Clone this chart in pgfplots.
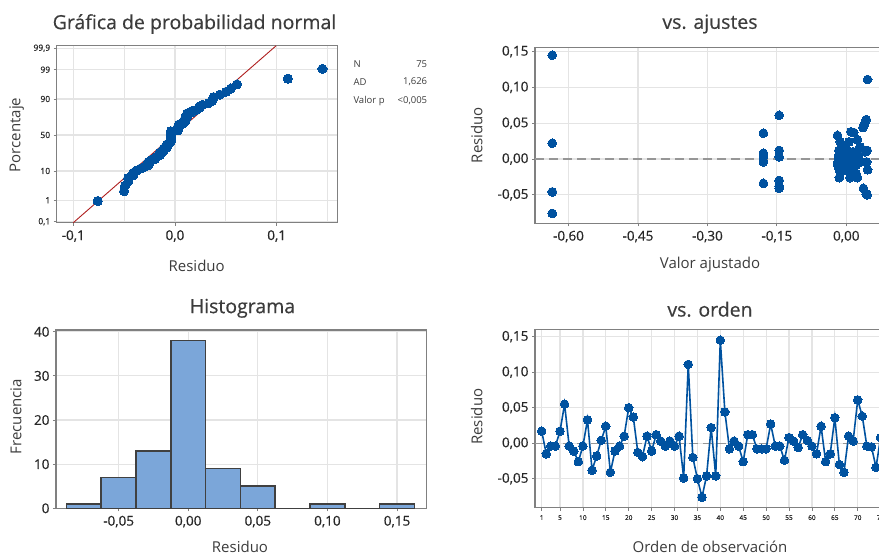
\documentclass[border=0pt]{standalone}
\usepackage{pgfplots}
\pgfplotsset{compat=1.18}
\usepackage{pgfplotstable}
\usepackage{fontspec}
\setmainfont{Open Sans}
\newfontfamily\semib{Open Sans}[FakeBold=0.5]

\definecolor{mtblue}{RGB}{0,82,160}
\definecolor{mtred}{RGB}{175,30,30}
\definecolor{mtbar}{RGB}{123,166,217}
\definecolor{mtframe}{RGB}{128,128,128}
\definecolor{mtgrid}{RGB}{228,228,228}
\definecolor{mttext}{RGB}{60,60,60}
\definecolor{mttick}{RGB}{40,40,40}
\definecolor{mtedge}{RGB}{64,64,64}
\definecolor{mtref}{RGB}{150,150,150}

% residuals in observation order, with their fitted values
\pgfplotstableread{
obs fit res
1 -0.006 0.017
2 -0.002 -0.015
3 -0.018 -0.004
4 -0.008 -0.004
5 0.030 0.017
6 0.043 0.055
7 0.004 -0.004
8 -0.011 -0.011
9 -0.015 -0.026
10 0.012 -0.004
11 -0.019 0.033
12 -0.145 -0.038
13 0.014 -0.018
14 0.009 0.004
15 0.006 0.024
16 0.037 -0.041
17 0.005 -0.011
18 -0.001 -0.004
19 0.014 0.010
20 0.040 0.050
21 0.016 0.037
22 -0.016 -0.013
23 -0.013 -0.019
24 -0.010 0.010
25 0.013 -0.011
26 0.045 0.012
27 0.001 0.003
28 0.019 -0.004
29 0.026 0.003
30 0.032 -0.004
31 0.020 0.010
32 0.043 -0.049
33 0.046 0.111
34 0.021 -0.020
35 0.045 -0.050
36 -0.635 -0.076
37 -0.635 -0.046
38 -0.635 0.022
39 -0.635 -0.046
40 -0.635 0.145
41 0.036 0.044
42 -0.019 -0.008
43 -0.012 0.003
44 0.044 -0.004
45 0.024 -0.026
46 -0.016 0.012
47 0.002 0.012
48 0.003 -0.008
49 0.011 -0.008
50 0.022 -0.008
51 0.024 0.027
52 -0.014 -0.004
53 0.007 -0.004
54 0.018 -0.024
55 -0.003 0.008
56 -0.145 0.003
57 0.016 -0.006
58 -0.145 0.012
59 -0.017 0.004
60 0.028 -0.004
61 0.009 -0.015
62 -0.013 0.024
63 0.008 -0.026
64 0.046 -0.015
65 -0.179 0.036
66 -0.145 -0.030
67 -0.145 -0.041
68 0.041 0.010
69 -0.179 0.003
70 -0.145 0.061
71 0.010 0.038
72 -0.179 -0.004
73 -0.005 -0.005
74 -0.179 -0.034
75 -0.179 0.008
}\resid

% ordered residuals against normal scores, ranks (i-0.3)/(n+0.4)
\pgfplotstableread{
z res
-2.354 -0.076
-2.004 -0.050
-1.8016 -0.049
-1.654 -0.046
-1.5355 -0.046
-1.4353 -0.041
-1.3478 -0.041
-1.2695 -0.038
-1.1984 -0.034
-1.1328 -0.030
-1.0718 -0.026
-1.0145 -0.026
-0.9604 -0.026
-0.9090 -0.024
-0.8597 -0.020
-0.8126 -0.019
-0.7672 -0.018
-0.7233 -0.015
-0.6808 -0.015
-0.6394 -0.015
-0.5991 -0.013
-0.5598 -0.011
-0.5214 -0.011
-0.4836 -0.011
-0.4466 -0.008
-0.4101 -0.008
-0.3742 -0.008
-0.3388 -0.008
-0.3038 -0.006
-0.2692 -0.005
-0.2349 -0.004
-0.2008 -0.004
-0.1670 -0.004
-0.1334 -0.004
-0.0999 -0.004
-0.0665 -0.004
-0.0332 -0.004
0 -0.004
0.0332 -0.004
0.0665 -0.004
0.0999 -0.004
0.1334 -0.004
0.1670 0.003
0.2008 0.003
0.2349 0.003
0.2692 0.003
0.3038 0.003
0.3388 0.004
0.3742 0.004
0.4101 0.008
0.4466 0.008
0.4836 0.010
0.5214 0.010
0.5598 0.010
0.5991 0.010
0.6394 0.012
0.6808 0.012
0.7233 0.012
0.7672 0.012
0.8126 0.017
0.8597 0.017
0.9090 0.022
0.9604 0.024
1.0145 0.024
1.0718 0.027
1.1328 0.033
1.1984 0.036
1.2695 0.037
1.3478 0.038
1.4353 0.044
1.5355 0.050
1.654 0.055
1.8016 0.061
2.004 0.111
2.354 0.145
}\probdata

\pgfplotsset{
  mtpanel/.style={
    scale only axis,
    anchor=south west,
    /pgf/number format/assume math mode=true,
    axis line style={mtframe, line width=1.4pt},
    major grid style={mtgrid, line width=1.2pt},
    minor grid style={mtgrid, line width=1.2pt},
    tick align=outside,
    major tick length=3pt,
    minor tick length=0pt,
    xtick pos=bottom,
    ytick pos=left,
    tick style={mtframe, line width=0.8pt},
    ticklabel style={font=\semib\fontsize{13.5}{13.5}\selectfont, text=mttick},
    xticklabel style={yshift=-1pt},
  },
  mtdots/.style={only marks, color=mtblue, mark=*, mark size=#1,
    mark options={fill=mtblue, draw=mtblue, line width=0pt}},
}

\newcommand\ttl{\semib\fontsize{19.5}{19.5}\selectfont\color{mttext}}
\newcommand\lbl{\fontsize{15}{15}\selectfont\color{mttext}}
\newcommand\stat{\fontsize{9.5}{9.5}\selectfont\color{mttext}}

\begin{document}
\begin{tikzpicture}
\path[use as bounding box] (0pt,0pt) rectangle (879pt,555pt);
\clip (0pt,0pt) rectangle (879pt,555pt);

% ---- normal probability plot
\begin{axis}[mtpanel, at={(56.7pt,332.3pt)}, width=280.6pt, height=177pt,
  xmin=-0.1163, xmax=0.1596, ymin=-3.125, ymax=3.18,
  grid=both,
  xtick={-0.1,0,0.1}, xticklabels={{-0,1},{0,0},{0,1}},
  minor xtick={-0.05,0.05,0.15},
  ytick={-3.0902,-2.3263,-1.2816,0,1.2816,2.3263,3.0902},
  yticklabels={{0,1},1,10,50,90,99,{99,9}},
  yticklabel style={font=\semib\fontsize{8.5}{8.5}\selectfont},
]
\addplot[mtred, line width=0.9pt] coordinates {(-0.1000,-3.125) (0.0995,3.18)};
\addplot[mtdots=4.6pt] table[x=res, y=z] {\probdata};
\end{axis}

% ---- residuals against fitted values
\begin{axis}[mtpanel, at={(535pt,331.7pt)}, width=350pt, height=176pt,
  xmin=-0.6724, xmax=0.0836, ymin=-0.0898, ymax=0.156,
  grid=major,
  xtick={-0.6,-0.45,-0.3,-0.15,0},
  xticklabels={{-0,60},{-0,45},{-0,30},{-0,15},{0,00}},
  ytick={-0.05,0,0.05,0.1,0.15},
  yticklabels={{-0,05},{0,00},{0,05},{0,10},{0,15}},
]
\addplot[mtref, line width=1.2pt, dash pattern=on 9pt off 5pt]
  coordinates {(-0.6724,0) (0.0836,0)};
\addplot[mtdots=4.4pt] table[x=fit, y=res] {\resid};
\end{axis}

% ---- histogram of residuals
\begin{axis}[mtpanel, at={(56pt,46.7pt)}, width=370.7pt, height=178.3pt,
  xmin=-0.095, xmax=0.1713, ymin=0, ymax=40.4,
  grid=major,
  xtick={-0.05,0,0.05,0.1,0.15},
  xticklabels={{-0,05},{0,00},{0,05},{0,10},{0,15}},
  ytick={0,10,20,30,40},
]
\addplot[ybar interval, fill=mtbar, draw=mtedge, line width=1.5pt] coordinates {
  (-0.0875,1) (-0.0625,7) (-0.0375,13) (-0.0125,38) (0.0125,9)
  (0.0375,5) (0.0625,0) (0.0875,1) (0.1125,0) (0.1375,1) (0.1625,1)};
\end{axis}

% ---- residuals in observation order
\begin{axis}[mtpanel, at={(535pt,47.3pt)}, width=350pt, height=178.4pt,
  xmin=-0.46, xmax=75.96, ymin=-0.0908, ymax=0.1604,
  grid=major,
  xtick={1,5,10,...,75},
  xticklabel style={font=\semib\fontsize{6.5}{6.5}\selectfont},
  ytick={-0.05,0,0.05,0.1,0.15},
  yticklabels={{-0,05},{0,00},{0,05},{0,10},{0,15}},
]
\addplot[mtref, line width=1.2pt, dash pattern=on 9pt off 5pt]
  coordinates {(-0.46,0) (75.96,0)};
\addplot[mtblue, line width=1.6pt, mark=*, mark size=4.3pt,
  mark options={fill=mtblue, draw=mtblue, line width=0pt}]
  table[x=obs, y=res] {\resid};
\end{axis}

% ---- titles and axis labels
\node[font=\ttl] at (194.5pt,531pt) {Gráfica de probabilidad normal};
\node[font=\ttl] at (710pt,531pt) {vs. ajustes};
\node[font=\ttl] at (242.5pt,246.7pt) {Histograma};
\node[font=\ttl] at (710pt,245.7pt) {vs. orden};

\node[font=\lbl] at (196.7pt,289.3pt) {Residuo};
\node[font=\lbl, rotate=90] at (16.7pt,420pt) {Porcentaje};
\node[font=\lbl] at (710pt,290pt) {Valor ajustado};
\node[font=\lbl, rotate=90] at (476.7pt,420pt) {Residuo};
\node[font=\lbl] at (240pt,8.3pt) {Residuo};
\node[font=\lbl, rotate=90] at (16pt,138.3pt) {Frecuencia};
\node[font=\lbl] at (710pt,8.3pt) {Orden de observación};
\node[font=\lbl, rotate=90] at (476.7pt,138.3pt) {Residuo};

% ---- summary statistics
\node[font=\stat, anchor=west] at (350pt,491pt) {N};
\node[font=\stat, anchor=east] at (430.7pt,491pt) {75};
\node[font=\stat, anchor=west] at (350pt,473pt) {AD};
\node[font=\stat, anchor=east] at (430.7pt,473pt) {1,626};
\node[font=\stat, anchor=west] at (350pt,454pt) {Valor p};
\node[font=\stat, anchor=east] at (430.7pt,454pt) {<0,005};
\end{tikzpicture}
\end{document}
